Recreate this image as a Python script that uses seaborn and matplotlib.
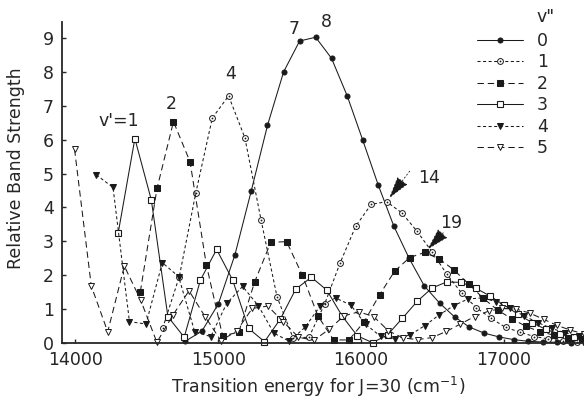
import matplotlib
matplotlib.use("Agg")
import matplotlib.pyplot as plt
import pandas as pd
import seaborn as sns

# Upper-state term energies (cm^-1) for v' = 0, 1, 2, ...
upper_term = [14769, 14886, 15001, 15117, 15231, 15345, 15458, 15570, 15682, 15793,
              15903, 16012, 16121, 16229, 16336, 16443, 16549, 16654, 16758, 16862,
              16965, 17067, 17169, 17270, 17370, 17469, 17568, 17666, 17763, 17860,
              17956, 18051, 18145, 18239, 18332, 18424]
# Lower-state vibrational energies (cm^-1) for v" = 0..5
lower_term = [0, 158, 314, 469, 622, 774]

# Relative band strengths, indexed by v'
strength_v0 = [0.05, 0.35, 1.15, 2.60, 4.48, 6.42, 8.00, 8.91, 9.02, 8.40,
               7.29, 5.98, 4.65, 3.45, 2.50, 1.68, 1.18, 0.77, 0.47, 0.29,
               0.18, 0.10, 0.05, 0.03, 0.02, 0.01, 0.01]
strength_v1 = [0.43, 1.96, 4.42, 6.64, 7.29, 6.05, 3.63, 1.36, 0.15, 0.17,
               1.15, 2.37, 3.45, 4.09, 4.17, 3.84, 3.30, 2.69, 2.03, 1.47,
               1.04, 0.73, 0.46, 0.32, 0.19, 0.12, 0.07, 0.04, 0.02]
strength_v2 = [1.51, 4.56, 6.53, 5.35, 2.31, 0.21, 0.32, 1.81, 2.97, 2.99,
               2.00, 0.80, 0.09, 0.09, 0.63, 1.42, 2.12, 2.52, 2.67, 2.48,
               2.15, 1.74, 1.32, 0.97, 0.71, 0.49, 0.33, 0.23, 0.16, 0.11,
               0.08]
strength_v3 = [3.24, 6.03, 4.22, 0.78, 0.17, 1.86, 2.76, 1.86, 0.43, 0.04,
               0.70, 1.59, 1.94, 1.56, 0.80, 0.21, 0.01, 0.24, 0.73, 1.23,
               1.62, 1.80, 1.79, 1.62, 1.39, 1.12, 0.85, 0.60, 0.40, 0.26,
               0.17, 0.11]
strength_v4 = [4.96, 4.59, 0.63, 0.56, 2.37, 1.96, 0.33, 0.19, 1.17, 1.67,
               1.10, 0.29, 0.05, 0.46, 1.09, 1.33, 1.12, 0.55, 0.20, 0.12,
               0.24, 0.51, 0.83, 1.10, 1.30, 1.33, 1.22, 1.02, 0.80, 0.60,
               0.43, 0.30, 0.20, 0.13]
strength_v5 = [5.71, 1.68, 0.33, 2.27, 1.27, 0.02, 0.83, 1.54, 0.78, 0.07,
               0.35, 1.02, 1.09, 0.63, 0.17, 0.08, 0.40, 0.80, 0.92, 0.78,
               0.36, 0.15, 0.10, 0.16, 0.34, 0.56, 0.78, 0.94, 1.02, 1.00,
               0.88, 0.70, 0.52, 0.38, 0.27, 0.18]

strengths = [strength_v0, strength_v1, strength_v2, strength_v3, strength_v4, strength_v5]
series_labels = ["0", "1", "2", "3", "4", "5"]
xtick_values = [14000, 15000, 16000, 17000]
ytick_values = list(range(10))

rows = []
for vl, values in enumerate(strengths):
    for vu, s in enumerate(values):
        rows.append({"v_lower": vl, "v_upper": vu,
                     "energy": upper_term[vu] - lower_term[vl], "strength": s})
df = pd.DataFrame(rows)

sns.set_theme(style="ticks")
plt.rcParams["font.family"] = ["DejaVu Sans"]
plt.rcParams["lines.scale_dashes"] = False

FS = 12.5
short_dash = (0, (2.2, 1.8))
long_dash = (0, (4.6, 2.8))
styles = [
    dict(linestyle="-", marker="o", ms=3.6, mfc="k"),
    dict(linestyle=short_dash, marker="o", ms=4.2, mfc="white", mew=0.7),
    dict(linestyle=long_dash, marker="s", ms=3.8, mfc="k"),
    dict(linestyle="-", marker="s", ms=4.8, mfc="white", mew=0.8),
    dict(linestyle=short_dash, marker="v", ms=4.0, mfc="k"),
    dict(linestyle=long_dash, marker="v", ms=5.0, mfc="white", mew=0.7),
]

fig = plt.figure(figsize=(5.84, 3.98), dpi=100)
ax = fig.add_axes([62 / 584, 55 / 398, 522 / 584, 321 / 398])

handles = []
for vl, st in enumerate(styles):
    sub = df[df["v_lower"] == vl]
    sns.lineplot(data=sub, x="energy", y="strength", ax=ax, color="k",
                 lw=0.75, mec="k", errorbar=None, clip_on=False, **st)
    line = ax.lines[-1]
    if vl == 1:
        sns.lineplot(data=sub, x="energy", y="strength", ax=ax, color="k",
                     linestyle="none", marker="o", ms=1.3, mew=0, mfc="k",
                     errorbar=None, clip_on=False)
        handles.append((line, ax.lines[-1]))
    else:
        handles.append(line)

ax.set_xlim(13907, 17560)
ax.set_ylim(0, 9.47)
ax.set_xticks(xtick_values)
ax.set_xticklabels([str(v) for v in xtick_values])
ax.set_yticks(ytick_values)
ax.tick_params(direction="in", length=3, width=1.0, labelsize=FS, pad=6)
sns.despine(ax=ax)
for side in ("left", "bottom"):
    ax.spines[side].set_linewidth(1.3)

ax.set_xlabel("Transition energy for J=30 (cm$^{-1}$)", fontsize=FS)
ax.set_ylabel("Relative Band Strength", fontsize=FS)
ax.xaxis.set_label_coords(0.49, -0.098)
ax.yaxis.set_label_coords(-0.071, 0.545)

# progression labels
ax.text(14304, 6.56, "v'=1", fontsize=FS, ha="center", va="center")
ax.text(14671, 7.05, "2", fontsize=FS, ha="center", va="center")
ax.text(15087, 7.95, "4", fontsize=FS, ha="center", va="center")
ax.text(15531, 9.26, "7", fontsize=FS, ha="center", va="center")
ax.text(15755, 9.48, "8", fontsize=FS, ha="center", va="center")
ax.text(16476, 4.87, "14", fontsize=FS, ha="center", va="center")
ax.text(16633, 3.55, "19", fontsize=FS, ha="center", va="center")

arrow = dict(arrowstyle="-|>,head_length=1.15,head_width=0.32", color="k",
             lw=0.6, linestyle=":", shrinkA=0, shrinkB=3)
ax.annotate("", xy=(upper_term[14] - lower_term[1], strength_v1[14]),
            xytext=(16340, 5.07), arrowprops=arrow, fontsize=FS)
ax.annotate("", xy=(upper_term[18] - lower_term[2], strength_v2[18]),
            xytext=(16575, 3.25), arrowprops=arrow, fontsize=FS)

leg = ax.legend(handles=handles, labels=series_labels, loc="upper left",
                bbox_to_anchor=(0.795, 0.969), frameon=False, borderpad=0,
                borderaxespad=0, handlelength=2.64, handletextpad=0.8,
                labelspacing=0.2, fontsize=FS)
ax.text(0.927, 1.016, 'v"', transform=ax.transAxes, fontsize=FS,
        ha="center", va="center")

fig.savefig("out.png", dpi=100)
